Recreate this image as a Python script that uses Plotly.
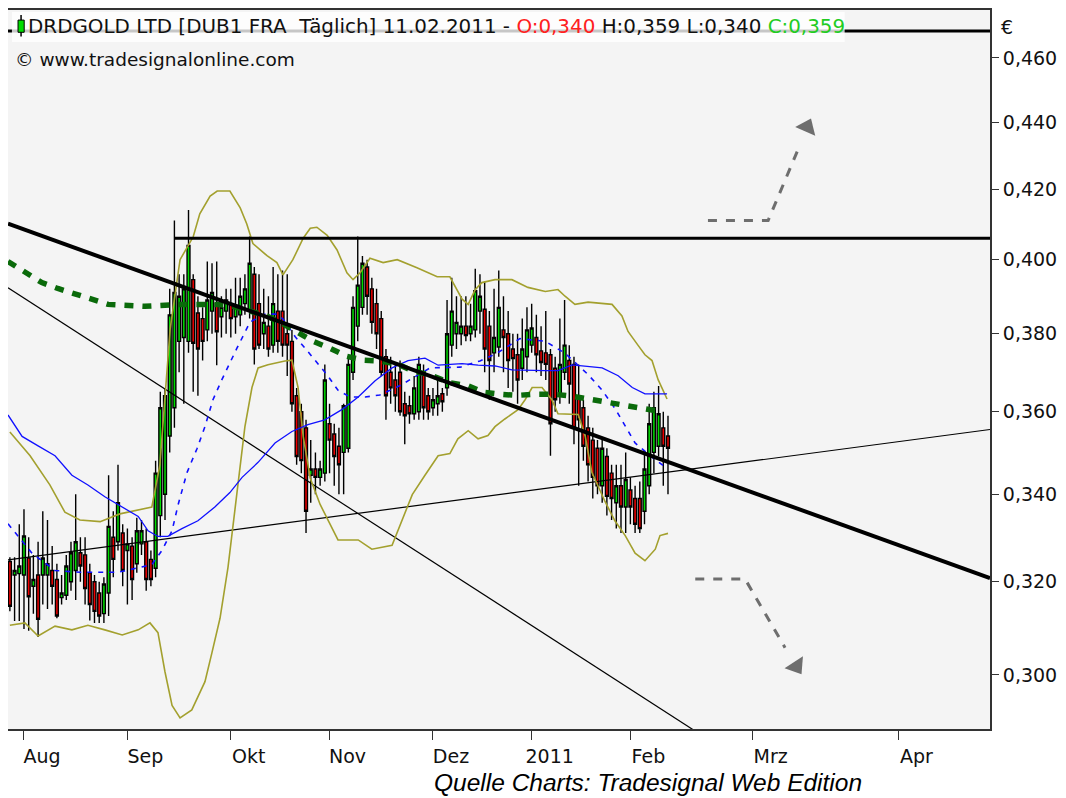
import plotly.graph_objects as go

# ---------------- data ----------------
# trading-day index 0..140 (28.07.2010 .. 11.02.2011)
opens = [0.3245,0.3215,0.3218,0.3215,0.3253,0.3190,0.3215,0.3215,0.3215,0.3225,
         0.3205,0.3165,0.3170,0.3200,0.3225,0.3265,0.3260,0.3220,0.3200,0.3175,
         0.3130,0.3175,0.3300,0.3290,0.3310,0.3270,0.3280,0.3240,0.3285,0.3290,
         0.3250,0.3230,0.3350,0.3400,0.3540,0.3610,0.3780,0.3790,0.3780,0.3945,
         0.3855,0.3840,0.3810,0.3860,0.3880,0.3845,0.3860,0.3880,0.3845,0.3850,
         0.3880,0.3860,0.3960,0.3880,0.3800,0.3820,0.3770,0.3860,0.3860,0.3800,
         0.3780,0.3640,0.3600,0.3560,0.3445,0.3460,0.3440,0.3450,0.3570,0.3545,
         0.3515,0.3500,0.3510,0.3700,0.3820,0.3870,0.3980,0.3920,0.3880,0.3840,
         0.3740,0.3700,0.3680,0.3700,0.3620,0.3615,0.3595,0.3600,0.3700,0.3640,
         0.3610,0.3620,0.3645,0.3660,0.3770,0.3800,0.3800,0.3820,0.3800,0.3810,
         0.3860,0.3865,0.3820,0.3750,0.3765,0.3810,0.3800,0.3760,0.3745,0.3710,
         0.3740,0.3770,0.3790,0.3755,0.3750,0.3745,0.3710,0.3640,0.3700,0.3730,
         0.3720,0.3640,0.3610,0.3560,0.3530,0.3510,0.3420,0.3490,0.3450,0.3380,
         0.3420,0.3370,0.3410,0.3390,0.3390,0.3360,0.3420,0.3500,0.3515,0.3560,
         0.3540]
highs = [0.3255,0.3255,0.3330,0.3365,0.3300,0.3260,0.3290,0.3360,0.3340,0.3280,
         0.3240,0.3215,0.3260,0.3290,0.3400,0.3300,0.3300,0.3240,0.3215,0.3200,
         0.3210,0.3445,0.3360,0.3470,0.3330,0.3320,0.3300,0.3345,0.3340,0.3320,
         0.3270,0.3480,0.3650,0.3660,0.3920,0.4110,0.3960,0.3960,0.4140,0.3960,
         0.3900,0.3870,0.3995,0.3990,0.3995,0.3900,0.3920,0.3920,0.3950,0.3950,
         0.3960,0.4065,0.3980,0.3960,0.3920,0.3900,0.3980,0.3960,0.3970,0.3960,
         0.3810,0.3660,0.3620,0.3580,0.3530,0.3500,0.3480,0.3720,0.3620,0.3570,
         0.3560,0.3620,0.3740,0.3900,0.4065,0.4010,0.4000,0.3950,0.3920,0.3860,
         0.3760,0.3740,0.3720,0.3730,0.3650,0.3640,0.3690,0.3740,0.3720,0.3660,
         0.3660,0.3690,0.3660,0.3890,0.3950,0.3900,0.3900,0.3900,0.3880,0.3975,
         0.3960,0.3940,0.3860,0.3920,0.3970,0.3900,0.3860,0.3800,0.3800,0.3840,
         0.3870,0.3880,0.3850,0.3820,0.3860,0.3760,0.3740,0.3840,0.3890,0.3770,
         0.3740,0.3720,0.3630,0.3590,0.3560,0.3530,0.3530,0.3510,0.3470,0.3470,
         0.3470,0.3500,0.3440,0.3420,0.3430,0.3500,0.3620,0.3650,0.3665,0.3600,
         0.3590]
lows = [0.3135,0.3114,0.3114,0.3097,0.3093,0.3130,0.3080,0.3150,0.3140,0.3150,
        0.3120,0.3150,0.3160,0.3180,0.3160,0.3200,0.3150,0.3115,0.3110,0.3110,
        0.3110,0.3125,0.3210,0.3270,0.3190,0.3150,0.3160,0.3220,0.3260,0.3180,
        0.3190,0.3210,0.3300,0.3340,0.3500,0.3560,0.3700,0.3620,0.3750,0.3650,
        0.3640,0.3730,0.3780,0.3800,0.3718,0.3790,0.3800,0.3790,0.3800,0.3820,
        0.3850,0.3840,0.3720,0.3760,0.3760,0.3740,0.3750,0.3750,0.3740,0.3690,
        0.3600,0.3470,0.3450,0.3310,0.3380,0.3400,0.3420,0.3430,0.3450,0.3420,
        0.3400,0.3400,0.3500,0.3680,0.3780,0.3850,0.3850,0.3800,0.3760,0.3690,
        0.3580,0.3620,0.3600,0.3590,0.3520,0.3570,0.3580,0.3580,0.3580,0.3580,
        0.3590,0.3590,0.3600,0.3640,0.3740,0.3760,0.3770,0.3780,0.3780,0.3790,
        0.3800,0.3700,0.3630,0.3700,0.3740,0.3700,0.3660,0.3650,0.3620,0.3680,
        0.3700,0.3750,0.3700,0.3690,0.3680,0.3492,0.3600,0.3620,0.3680,0.3620,
        0.3520,0.3420,0.3480,0.3430,0.3390,0.3400,0.3380,0.3350,0.3340,0.3320,
        0.3310,0.3310,0.3330,0.3310,0.3310,0.3330,0.3400,0.3450,0.3490,0.3420,
        0.3400]
closes = [0.3146,0.3225,0.3235,0.3303,0.3167,0.3205,0.3118,0.3253,0.3240,0.3190,
          0.3125,0.3175,0.3235,0.3265,0.3290,0.3235,0.3185,0.3150,0.3135,0.3125,
          0.3195,0.3325,0.3250,0.3380,0.3225,0.3285,0.3205,0.3315,0.3315,0.3205,
          0.3205,0.3450,0.3610,0.3640,0.3850,0.3910,0.3900,0.3920,0.4040,0.3775,
          0.3760,0.3780,0.3890,0.3910,0.3805,0.3870,0.3890,0.3840,0.3870,0.3900,
          0.3920,0.3990,0.3760,0.3770,0.3830,0.3760,0.3880,0.3780,0.3770,0.3770,
          0.3620,0.3490,0.3480,0.3360,0.3460,0.3440,0.3460,0.3680,0.3530,0.3490,
          0.3470,0.3615,0.3720,0.3870,0.3930,0.3990,0.3900,0.3830,0.3800,0.3700,
          0.3640,0.3660,0.3640,0.3600,0.3590,0.3595,0.3660,0.3720,0.3610,0.3600,
          0.3630,0.3640,0.3625,0.3800,0.3860,0.3830,0.3820,0.3795,0.3820,0.3915,
          0.3900,0.3760,0.3730,0.3790,0.3870,0.3790,0.3730,0.3735,0.3680,0.3760,
          0.3810,0.3815,0.3745,0.3725,0.3720,0.3570,0.3630,0.3720,0.3770,0.3670,
          0.3560,0.3580,0.3515,0.3470,0.3440,0.3420,0.3510,0.3395,0.3390,0.3420,
          0.3370,0.3435,0.3370,0.3330,0.3320,0.3460,0.3570,0.3610,0.3595,0.3515,
          0.3510]
day_index = list(range(len(closes)))

# Bollinger bands (read at sampled trading-day positions)
bb_up_x = [0,4.3,8.5,11.7,14.9,19.2,23.4,27.7,30.2,31.9,34.1,36.2,39.0,40.4,42.6,44.1,46.8,49.0,
           50.4,51.7,54.7,56.8,58.1,60.2,62.4,63.9,65.3,67.5,69.6,71.7,73.0,74.5,76.6,79.4,82.4,
           86.6,90.9,93.6,96.2,97.5,99.0,100.4,103.2,106.8,110.2,113.9,116.6,118.1,120.2,123.0,
           128.1,130.2,131.5,133.6,135.1,136.6,137.9,139.8]
bb_up_y = [0.3550,0.3492,0.3422,0.3358,0.3340,0.3336,0.3354,0.3365,0.3370,0.3469,0.3813,0.4000,
           0.4064,0.4129,0.4180,0.4195,0.4195,0.4146,0.4100,0.4045,0.4011,0.3992,0.3958,0.4000,
           0.4060,0.4088,0.4091,0.4068,0.4027,0.3964,0.3945,0.3964,0.4004,0.3992,0.4000,0.3978,
           0.3953,0.3953,0.3892,0.3878,0.3918,0.3937,0.3945,0.3945,0.3924,0.3913,0.3918,0.3900,
           0.3878,0.3884,0.3878,0.3847,0.3806,0.3770,0.3745,0.3730,0.3681,0.3632]
bb_lo_x = [0,3.2,6.0,9.6,13.2,16.6,20.2,23.9,27.3,29.8,31.5,33.0,34.5,36.2,38.7,41.5,43.0,44.7,
           46.4,48.5,50.0,51.5,52.8,54.9,58.5,60.0,61.3,62.4,63.9,66.0,68.1,69.8,74.1,77.0,81.3,
           82.6,85.6,88.3,91.1,93.6,95.3,97.5,99.6,101.7,103.2,105.3,108.1,109.6,111.1,113.2,
           115.3,116.6,120.9,122.4,123.8,126.6,128.7,130.9,133.0,135.1,137.3,138.3,140.0]
bb_lo_y = [0.3105,0.3110,0.3082,0.3103,0.3095,0.3105,0.3095,0.3084,0.3095,0.3110,0.3089,0.3006,
           0.2937,0.2912,0.2928,0.2986,0.3047,0.3120,0.3232,0.3422,0.3563,0.3661,0.3711,0.3719,
           0.3729,0.3731,0.3661,0.3539,0.3438,0.3376,0.3331,0.3294,0.3294,0.3273,0.3282,0.3316,
           0.3399,0.3445,0.3492,0.3497,0.3533,0.3553,0.3533,0.3541,0.3563,0.3582,0.3605,0.3630,
           0.3661,0.3661,0.3630,0.3595,0.3593,0.3539,0.3452,0.3383,0.3338,0.3304,0.3264,0.3247,
           0.3273,0.3304,0.3309]

# long moving average (blue solid)
ma_long_x = [-0.4,2.6,6.0,9.6,13.2,16.6,20.2,23.9,27.3,29.4,31.5,33.6,36.6,40.0,43.6,46.8,49.4,
             52.8,56.4,60.0,63.4,67.0,70.7,74.1,77.7,81.3,84.7,88.3,91.1,96.2,99.6,103.2,106.8,
             113.9,116.6,119.6,122.4,126.0,129.4,132.4,135.1,139.8]
ma_long_y = [0.3592,0.3539,0.3516,0.3492,0.3445,0.3422,0.3394,0.3370,0.3348,0.3315,0.3302,0.3302,
             0.3320,0.3338,0.3370,0.3404,0.3440,0.3476,0.3523,0.3551,0.3568,0.3580,0.3606,0.3637,
             0.3678,0.3711,0.3730,0.3736,0.3718,0.3722,0.3718,0.3716,0.3706,0.3704,0.3704,0.3719,
             0.3716,0.3711,0.3691,0.3661,0.3645,0.3645]

# short moving average (blue dashed)
ma_short_x = [-0.4,4.7,9.6,14.9,23.0,27.3,30.2,32.4,34.5,35.8,37.7,39.8,41.5,43.2,45.1,48.3,51.1,
              54.3,56.8,58.1,60.7,62.8,64.9,67.5,69.8,72.4,75.6,78.7,83.0,89.4,95.8,100.0,103.6,
              108.5,113.9,118.1,123.0,126.0,128.8,130.9,133.0,136.2,139.8]
ma_short_y = [0.3331,0.3264,0.3225,0.3221,0.3221,0.3232,0.3238,0.3271,0.3315,0.3376,0.3452,0.3509,
              0.3563,0.3630,0.3681,0.3762,0.3831,0.3852,0.3852,0.3839,0.3792,0.3762,0.3731,0.3693,
              0.3654,0.3637,0.3637,0.3642,0.3666,0.3711,0.3713,0.3729,0.3749,0.3787,0.3780,0.3749,
              0.3694,0.3654,0.3607,0.3563,0.3523,0.3492,0.3461]

# 200-day average (green thick dashed)
ma200_x = [-0.4,3.2,6.8,10.2,13.9,17.5,20.9,28.7,36.2,44.1,47.5,51.1,54.7,58.1,61.1,64.5,68.1,
           71.7,75.1,78.7,82.4,85.8,89.4,93.6,97.3,100.7,104.3,107.9,111.7,115.6,119.6,123.0,
           126.6,130.2,134.1,137.7]
ma200_y = [0.3995,0.3967,0.3937,0.3921,0.3905,0.3892,0.3878,0.3873,0.3878,0.3878,0.3873,0.3860,
           0.3847,0.3826,0.3806,0.3780,0.3762,0.3741,0.3731,0.3729,0.3721,0.3703,0.3693,0.3673,
           0.3666,0.3649,0.3644,0.3641,0.3644,0.3644,0.3639,0.3632,0.3627,0.3619,0.3610,0.3602]

# trend lines (two anchor points each)
trend_main_x = [-0.4, 208.5];   trend_main_y = [0.4101, 0.3208]
trend_low_x = [-0.4, 150.0];    trend_low_y = [0.3923, 0.2860]
trend_up_x = [-0.4, 208.5];     trend_up_y = [0.3249, 0.3556]
resist_x = [35.0, 208.5];       resist_y = [0.4060, 0.4060]
top_line_x = [-0.4, 208.5];     top_line_y = [0.4687, 0.4687]

# scenario arrows
arrow_up_x = [148.5, 161.3, 168.1];    arrow_up_y = [0.4110, 0.4110, 0.4332]
arrow_up_head_x = [169.6];             arrow_up_head_y = [0.4385]
arrow_dn_x = [145.8, 156.4, 164.9];    arrow_dn_y = [0.3206, 0.3206, 0.3057]
arrow_dn_head_x = [167.3];             arrow_dn_head_y = [0.3018]

# axis ticks
x_tick_pos = [3, 25, 47, 68, 90, 111, 132, 158, 189]
x_tick_text = ["Aug", "Sep", "Okt", "Nov", "Dez", "2011", "Feb", "Mrz", "Apr"]
y_tick_vals = [0.30, 0.32, 0.34, 0.36, 0.38, 0.40, 0.42, 0.44, 0.46]
y_tick_text = ["0,300", "0,320", "0,340", "0,360", "0,380", "0,400", "0,420", "0,440", "0,460"]

# ---------------- figure ----------------
OLIVE = "#a3a02e"
fig = go.Figure()

def line(x, y, color, width, dash="solid"):
    fig.add_trace(go.Scatter(x=x, y=y, mode="lines", hoverinfo="skip",
                             line=dict(color=color, width=width, dash=dash)))

line(top_line_x, top_line_y, "black", 3)
line(trend_low_x, trend_low_y, "black", 1.2)
line(trend_up_x, trend_up_y, "black", 1.2)
line(bb_up_x, bb_up_y, OLIVE, 1.6)
line(bb_lo_x, bb_lo_y, OLIVE, 1.6)
line(ma_long_x, ma_long_y, "#1010ff", 1.3)
line(ma_short_x, ma_short_y, "#1010ff", 1.6, "5px,6px")
line(ma200_x, ma200_y, "#0a6a0a", 5.5, "9px,9px")

fig.add_trace(go.Candlestick(
    x=day_index, open=opens, high=highs, low=lows, close=closes,
    increasing=dict(fillcolor="#00dd00", line=dict(color="black", width=1.4)),
    decreasing=dict(fillcolor="#ee0000", line=dict(color="black", width=1.4)),
    hoverinfo="skip"))

line(trend_main_x, trend_main_y, "black", 4)
line(resist_x, resist_y, "black", 3)

# arrows
line(arrow_up_x, arrow_up_y, "#6e6e6e", 3, "9px,9px")
line(arrow_dn_x, arrow_dn_y, "#6e6e6e", 3, "9px,9px")
fig.add_trace(go.Scatter(x=arrow_up_head_x, y=arrow_up_head_y, mode="markers", hoverinfo="skip",
                         marker=dict(symbol="triangle-up", size=19, angle=24, color="#6e6e6e")))
fig.add_trace(go.Scatter(x=arrow_dn_head_x, y=arrow_dn_head_y, mode="markers", hoverinfo="skip",
                         marker=dict(symbol="triangle-down", size=19, angle=-33, color="#6e6e6e")))

FONT = "DejaVu Sans"
# the page body has an 8px margin, so the figure is slightly smaller than the window
fig.update_layout(
    width=1058, height=790,
    margin=dict(l=0, r=76, t=2, b=69, autoexpand=False),
    paper_bgcolor="white", plot_bgcolor="#f4f4f4",
    showlegend=False, boxgap=0.12,
    separators=",.",
    xaxis=dict(range=[-0.4, 208.5], rangeslider=dict(visible=False),
               tickmode="array", tickvals=x_tick_pos, ticktext=x_tick_text,
               ticks="outside", ticklen=9, tickcolor="#333", tickwidth=1,
               ticklabelshift=18, ticklabelstandoff=0,
               showgrid=False, zeroline=False,
               showline=True, linecolor="#333", linewidth=2, mirror=True,
               tickfont=dict(family=FONT, size=19, color="#111")),
    yaxis=dict(type="log", range=[-0.53917, -0.32280], side="right",
               tickmode="array", tickvals=y_tick_vals, ticktext=y_tick_text,
               ticks="outside", ticklen=7, tickcolor="#333",
               showgrid=False, zeroline=False,
               showline=True, linecolor="#333", linewidth=2, mirror=True,
               tickfont=dict(family=FONT, size=19, color="#111")),
)

# header background box and candle icon
fig.add_shape(type="rect", xref="paper", yref="paper", x0=0.004, x1=0.852, y0=0.9555, y1=0.9972,
              fillcolor="rgba(255,255,255,0.78)", line=dict(width=0), layer="above")
fig.add_shape(type="line", xref="paper", yref="paper", x0=0.0133, x1=0.0133, y0=0.963, y1=0.993,
              line=dict(color="black", width=1.5), layer="above")
fig.add_shape(type="rect", xref="paper", yref="paper", x0=0.0102, x1=0.0165, y0=0.969, y1=0.986,
              fillcolor="#00dd00", line=dict(color="black", width=1), layer="above")

header = ("DRDGOLD LTD [DUB1 FRA\u00a0\u00a0Täglich] 11.02.2011 - "
          "<span style='color:#ff2020'>O:0,340</span> H:0,359 L:0,340 "
          "<span style='color:#22cc22'>C:0,359</span>")
fig.add_annotation(text=header, xref="paper", yref="paper", x=0.0185, y=0.977,
                   xanchor="left", yanchor="middle", showarrow=False,
                   font=dict(family=FONT, size=19.9, color="#111"))
fig.add_annotation(text="© www.tradesignalonline.com", xref="paper", yref="paper", x=0.005, y=0.931,
                   xanchor="left", yanchor="middle", showarrow=False,
                   font=dict(family=FONT, size=18.5, color="#111"))
fig.add_annotation(text="€", xref="paper", yref="paper", x=1.009, y=0.976,
                   xanchor="left", yanchor="middle", showarrow=False,
                   font=dict(family=FONT, size=19, color="#111"))
fig.add_annotation(text="<i>Quelle Charts: Tradesignal Web Edition</i>", xref="paper", yref="paper",
                   x=0.652, y=-0.0744, xanchor="center", yanchor="middle", showarrow=False,
                   font=dict(family="Liberation Sans", size=24.5, color="black"))

fig.write_html("out.html")
